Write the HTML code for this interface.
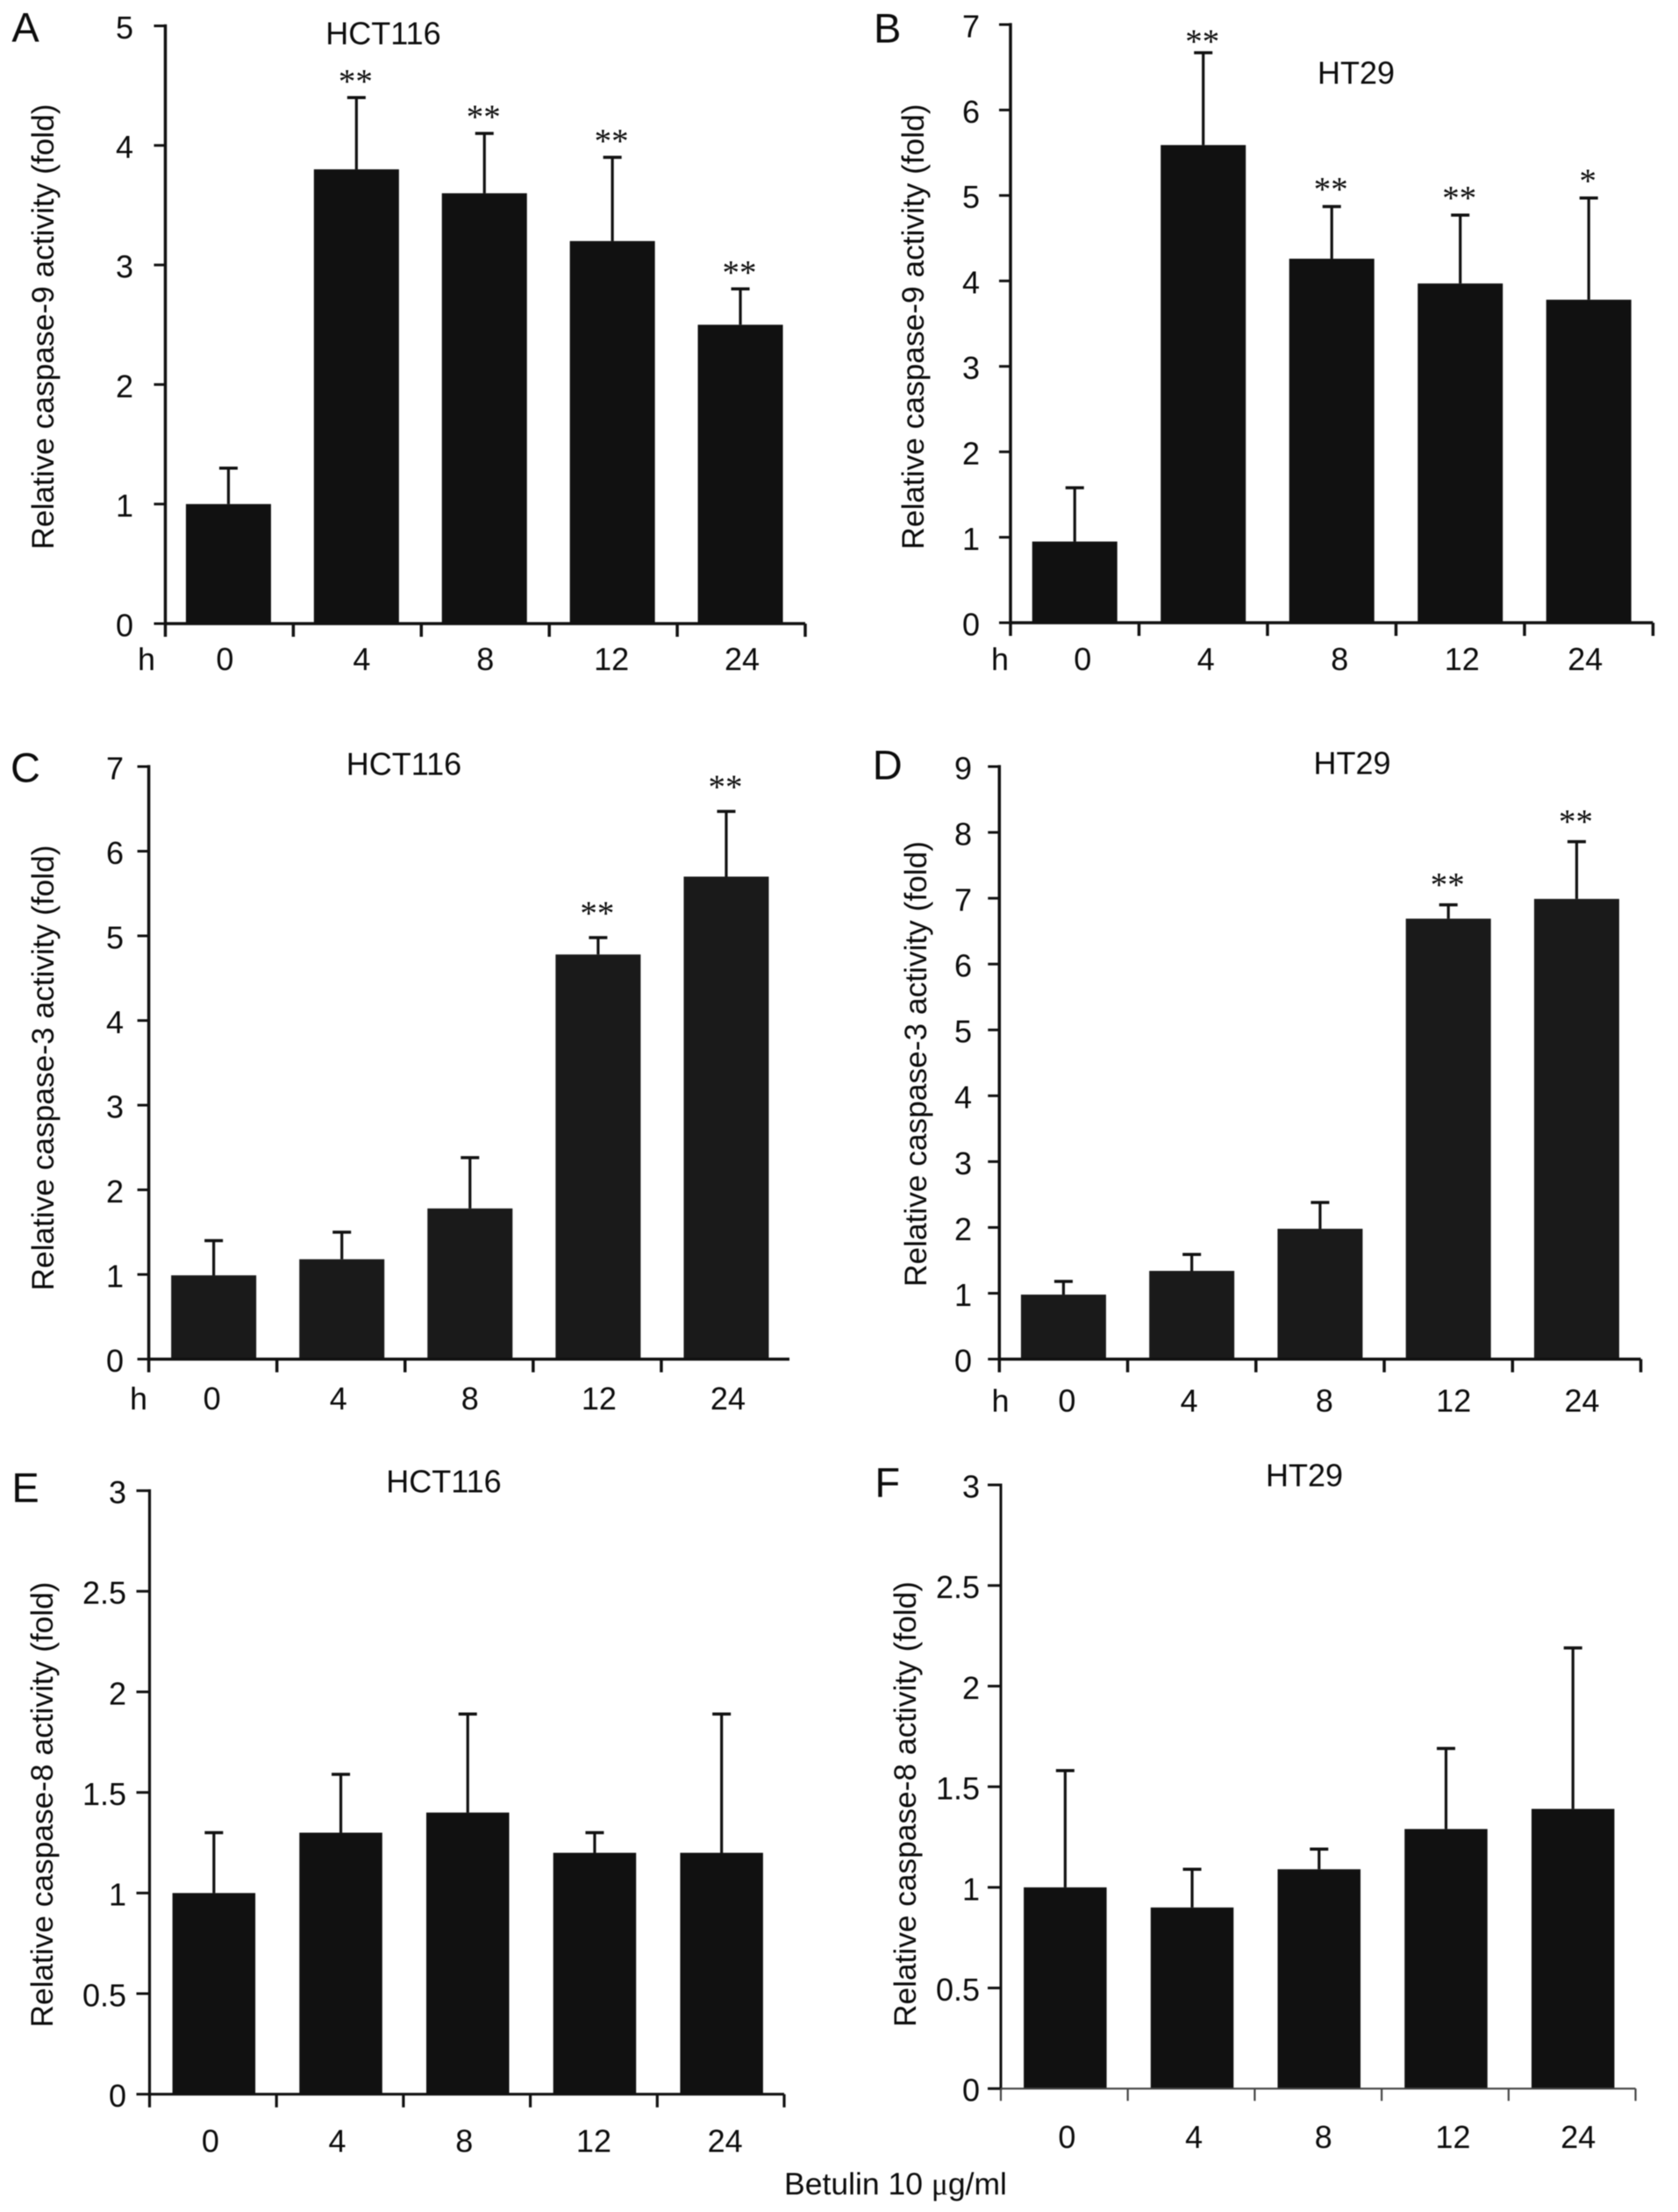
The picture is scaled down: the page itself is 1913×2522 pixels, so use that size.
<!DOCTYPE html>
<html lang="en">
<head>
<meta charset="utf-8">
<title>Caspase activity after betulin treatment</title>
<style>
  html, body { margin: 0; padding: 0; background: #fff; }
  #figure { display: block; width: 1913px; height: 2522px; background: #fff; filter: blur(0.5px); }
  text { font-family: "Liberation Sans", Arial, sans-serif; fill: #0c0c0c; }
  .stars { font-family: "Liberation Serif", "Times New Roman", serif; }
</style>
</head>
<body>
<svg id="figure" xmlns="http://www.w3.org/2000/svg" width="1913" height="2522" viewBox="0 0 1913 2522">
  <text x="1021" y="2502" font-size="35.5" text-anchor="middle">Betulin 10 <tspan font-family="Liberation Serif, serif">μ</tspan>g/ml</text>
</svg>
<script>
// ---- chart data ----
const categories = ["0", "4", "8", "12", "24"];

const ticksA = ["0", "1", "2", "3", "4", "5"];
const ticksB = ["0", "1", "2", "3", "4", "5", "6", "7"];
const ticksC = ["0", "1", "2", "3", "4", "5", "6", "7"];
const ticksD = ["0", "1", "2", "3", "4", "5", "6", "7", "8", "9"];
const ticksE = ["0", "0.5", "1", "1.5", "2", "2.5", "3"];
const ticksF = ["0", "0.5", "1", "1.5", "2", "2.5", "3"];

const valuesA = [1.0, 3.8, 3.6, 3.2, 2.5];
const errorsA = [1.3, 4.4, 4.1, 3.9, 2.8];
const starsA = ["", "**", "**", "**", "**"];

const valuesB = [0.95, 5.59, 4.26, 3.97, 3.78];
const errorsB = [1.58, 6.67, 4.87, 4.77, 4.97];
const starsB = ["", "**", "**", "**", "*"];

const valuesC = [0.99, 1.18, 1.78, 4.78, 5.70];
const errorsC = [1.40, 1.50, 2.38, 4.98, 6.47];
const starsC = ["", "", "", "**", "**"];

const valuesD = [0.98, 1.34, 1.98, 6.69, 6.99];
const errorsD = [1.18, 1.59, 2.38, 6.90, 7.86];
const starsD = ["", "", "", "**", "**"];

const valuesE = [1.0, 1.3, 1.4, 1.2, 1.2];
const errorsE = [1.3, 1.59, 1.89, 1.3, 1.89];
const starsE = ["", "", "", "", ""];

const valuesF = [1.0, 0.9, 1.09, 1.29, 1.39];
const errorsF = [1.58, 1.09, 1.19, 1.69, 2.19];
const starsF = ["", "", "", "", ""];

// ---- panel layout ----
const panels = [
  { id: "a", letter: "A", cell: "HCT116", yTitle: "Relative caspase-9 activity (fold)",
    ticks: ticksA, values: valuesA, errors: errorsA, stars: starsA,
    left: 188.5, right: 918, top: 29.5, bottom: 711, barW: 97, fill: "#111", axisW: 3.5, xAxisW: 3.5, xColor: "#111",
    endTick: true, tickL: 13, tickD: 15, labelRight: 152, xLabelY: 751, hX: 167,
    labelDx: [-5, 5, 0, -2, 1], starGap: 25, firstStarNudge: 0, barDx: -1,
    letterX: 29, letterY: 31, titleX: 437, titleY: 38, yTitleX: 50, yTitleY: 372.5 },
  { id: "b", letter: "B", cell: "HT29", yTitle: "Relative caspase-9 activity (fold)",
    ticks: ticksB, values: valuesB, errors: errorsB, stars: starsB,
    left: 1152, right: 1884.5, top: 28, bottom: 710, barW: 97, fill: "#111", axisW: 3.5, xAxisW: 3.5, xColor: "#111",
    endTick: true, tickL: 13, tickD: 15, labelRight: 1117, xLabelY: 751, hX: 1140,
    labelDx: [9, 3, 9, 2, -4], starGap: 26, firstStarNudge: 7, barDx: 0,
    letterX: 1011.7, letterY: 32, titleX: 1546, titleY: 83, yTitleX: 1042, yTitleY: 372.5 },
  { id: "c", letter: "C", cell: "HCT116", yTitle: "Relative caspase-3 activity (fold)",
    ticks: ticksC, values: valuesC, errors: errorsC, stars: starsC,
    left: 169.6, right: 900, top: 874, bottom: 1549.6, barW: 97, fill: "#1a1a1a", axisW: 3.5, xAxisW: 3.5, xColor: "#111",
    endTick: false, tickL: 13, tickD: 15, labelRight: 141, xLabelY: 1594, hX: 158,
    labelDx: [-1, -3, 1, 2, 3], starGap: 34, firstStarNudge: 0, barDx: 1,
    letterX: 29, letterY: 875, titleX: 460.5, titleY: 871, yTitleX: 50, yTitleY: 1217.5 },
  { id: "d", letter: "D", cell: "HT29", yTitle: "Relative caspase-3 activity (fold)",
    ticks: ticksD, values: valuesD, errors: errorsD, stars: starsD,
    left: 1139.3, right: 1870.6, top: 874, bottom: 1549.6, barW: 97, fill: "#1a1a1a", axisW: 3.5, xAxisW: 3.5, xColor: "#111",
    endTick: true, tickL: 13, tickD: 15, labelRight: 1108, xLabelY: 1596.5, hX: 1140.5,
    labelDx: [4, -3, 5, 6, 6], starGap: 29, firstStarNudge: 0, barDx: 0,
    letterX: 1011.7, letterY: 872, titleX: 1541.5, titleY: 870, yTitleX: 1045, yTitleY: 1213 },
  { id: "e", letter: "E", cell: "HCT116", yTitle: "Relative caspase-8 activity (fold)",
    ticks: ticksE, values: valuesE, errors: errorsE, stars: starsE,
    left: 170.5, right: 894, top: 1699.6, bottom: 2387.7, barW: 94.5, fill: "#111", axisW: 3.2, xAxisW: 3.2, xColor: "#111",
    endTick: true, tickL: 15, tickD: 15, labelRight: 144, xLabelY: 2440.5, hX: null,
    labelDx: [-3, -3, -3, 0, 5], starGap: 25, firstStarNudge: 0, barDx: 1,
    letterX: 29, letterY: 1696, titleX: 506, titleY: 1689, yTitleX: 49, yTitleY: 2057.5 },
  { id: "f", letter: "F", cell: "HT29", yTitle: "Relative caspase-8 activity (fold)",
    ticks: ticksF, values: valuesF, errors: errorsF, stars: starsF,
    left: 1141, right: 1864.6, top: 1693, bottom: 2381.3, barW: 94.5, fill: "#111", axisW: 3, xAxisW: 2.2, xColor: "#444",
    endTick: true, tickL: 15, tickD: 14, labelRight: 1117, xLabelY: 2436, hX: null,
    labelDx: [3, 3, 6, 9, 7], starGap: 25, firstStarNudge: 0, barDx: 1,
    letterX: 1011.7, letterY: 1690, titleX: 1487, titleY: 1682, yTitleX: 1033, yTitleY: 2057 }
];

const SVG_NS = "http://www.w3.org/2000/svg";
const figure = document.getElementById("figure");
const FONT = 36;
const TITLE_FONT = 35.3;
const STAR_FONT = 39;

function addEl(parent, tag, attrs, name) {
  const el = document.createElementNS(SVG_NS, tag);
  Object.keys(attrs).forEach(function (k) { el.setAttribute(k, attrs[k]); });
  
  
  parent.appendChild(el);
  return el;
}

function addLine(parent, x1, y1, x2, y2, width, color, name) {
  return addEl(parent, "line", { x1: x1, y1: y1, x2: x2, y2: y2, stroke: color, "stroke-width": width }, name);
}

function addText(parent, str, x, y, size, anchor, name) {
  const t = addEl(parent, "text", { x: x, y: y, "font-size": size, "text-anchor": anchor }, name);
  t.textContent = str;
  return t;
}

panels.forEach(function (p) {
  const g = addEl(figure, "g", {}, "panel-" + p.id);
  const maxTick = parseFloat(p.ticks[p.ticks.length - 1]);
  const band = (p.right - p.left) / categories.length;

  // axis functions
  const yScale = function (v) { return p.bottom - (v / maxTick) * (p.bottom - p.top); };
  const xEdge = function (i) { return p.left + i * band; };
  const xCenter = function (i) { return p.left + (i + 0.5) * band; };

  addText(g, p.letter, p.letterX, p.letterY + 16.5, 47, "middle", "panel-letter-" + p.id);
  addText(g, p.cell, p.titleX, p.titleY + 12.5, FONT, "middle", "cell-line-title-" + p.id);

  const yt = addText(g, p.yTitle, 0, 0, TITLE_FONT, "middle", "y-axis-title-" + p.id);
  yt.setAttribute("transform", "translate(" + (p.yTitleX + 11) + "," + p.yTitleY + ") rotate(-90)");

  // bars, then error bars
  categories.forEach(function (cat, i) {
    const cx = xCenter(i) + p.barDx;
    const top = yScale(p.values[i]);
    const errTop = yScale(p.errors[i]);
    addEl(g, "rect", { x: cx - p.barW / 2, y: top, width: p.barW, height: p.bottom - top, fill: p.fill }, "bar-" + p.id + "-" + cat + "h");
    addLine(g, cx, top, cx, errTop, 3.2, "#111", "error-bar-" + p.id + "-" + cat + "h");
    addLine(g, cx - 10.5, errTop, cx + 10.5, errTop, 3.5, "#111", "error-cap-" + p.id + "-" + cat + "h");
    if (p.stars[i]) {
      const nudge = i === 1 ? p.firstStarNudge : 0;
      const s = addText(g, p.stars[i], cx - 1, errTop - p.starGap + nudge + 19, STAR_FONT, "middle", "significance-" + p.id + "-" + cat + "h");
      s.setAttribute("class", "stars");
    }
  });

  // y axis
  addLine(g, p.left, p.top - p.axisW / 2, p.left, p.bottom + p.axisW / 2, p.axisW, "#111", "y-axis-" + p.id);
  p.ticks.forEach(function (label) {
    const v = parseFloat(label);
    const y = yScale(v);
    addLine(g, p.left - p.tickL, y, p.left, y, 3, "#111", "y-tick-" + p.id + "-" + label);
    addText(g, label, p.labelRight, y + 1.5 + FONT * 0.358, FONT, "end", "y-tick-label-" + p.id + "-" + label);
  });

  // x axis
  addLine(g, p.left, p.bottom, p.right, p.bottom, p.xAxisW, p.xColor, "x-axis-" + p.id);
  const edgeCount = categories.length + (p.endTick ? 1 : 0);
  for (let i = 0; i < edgeCount; i++) {
    addLine(g, xEdge(i), p.bottom, xEdge(i), p.bottom + p.tickD, p.xAxisW, p.xColor, "x-tick-" + p.id + "-" + i);
  }
  categories.forEach(function (cat, i) {
    addText(g, cat, xCenter(i) + p.labelDx[i], p.xLabelY + FONT * 0.358, FONT, "middle", "x-tick-label-" + p.id + "-" + cat);
  });
  if (p.hX !== null) {
    addText(g, "h", p.hX, p.xLabelY + FONT * 0.358, FONT, "middle", "x-unit-label-" + p.id);
  }
});
</script>
</body>
</html>
